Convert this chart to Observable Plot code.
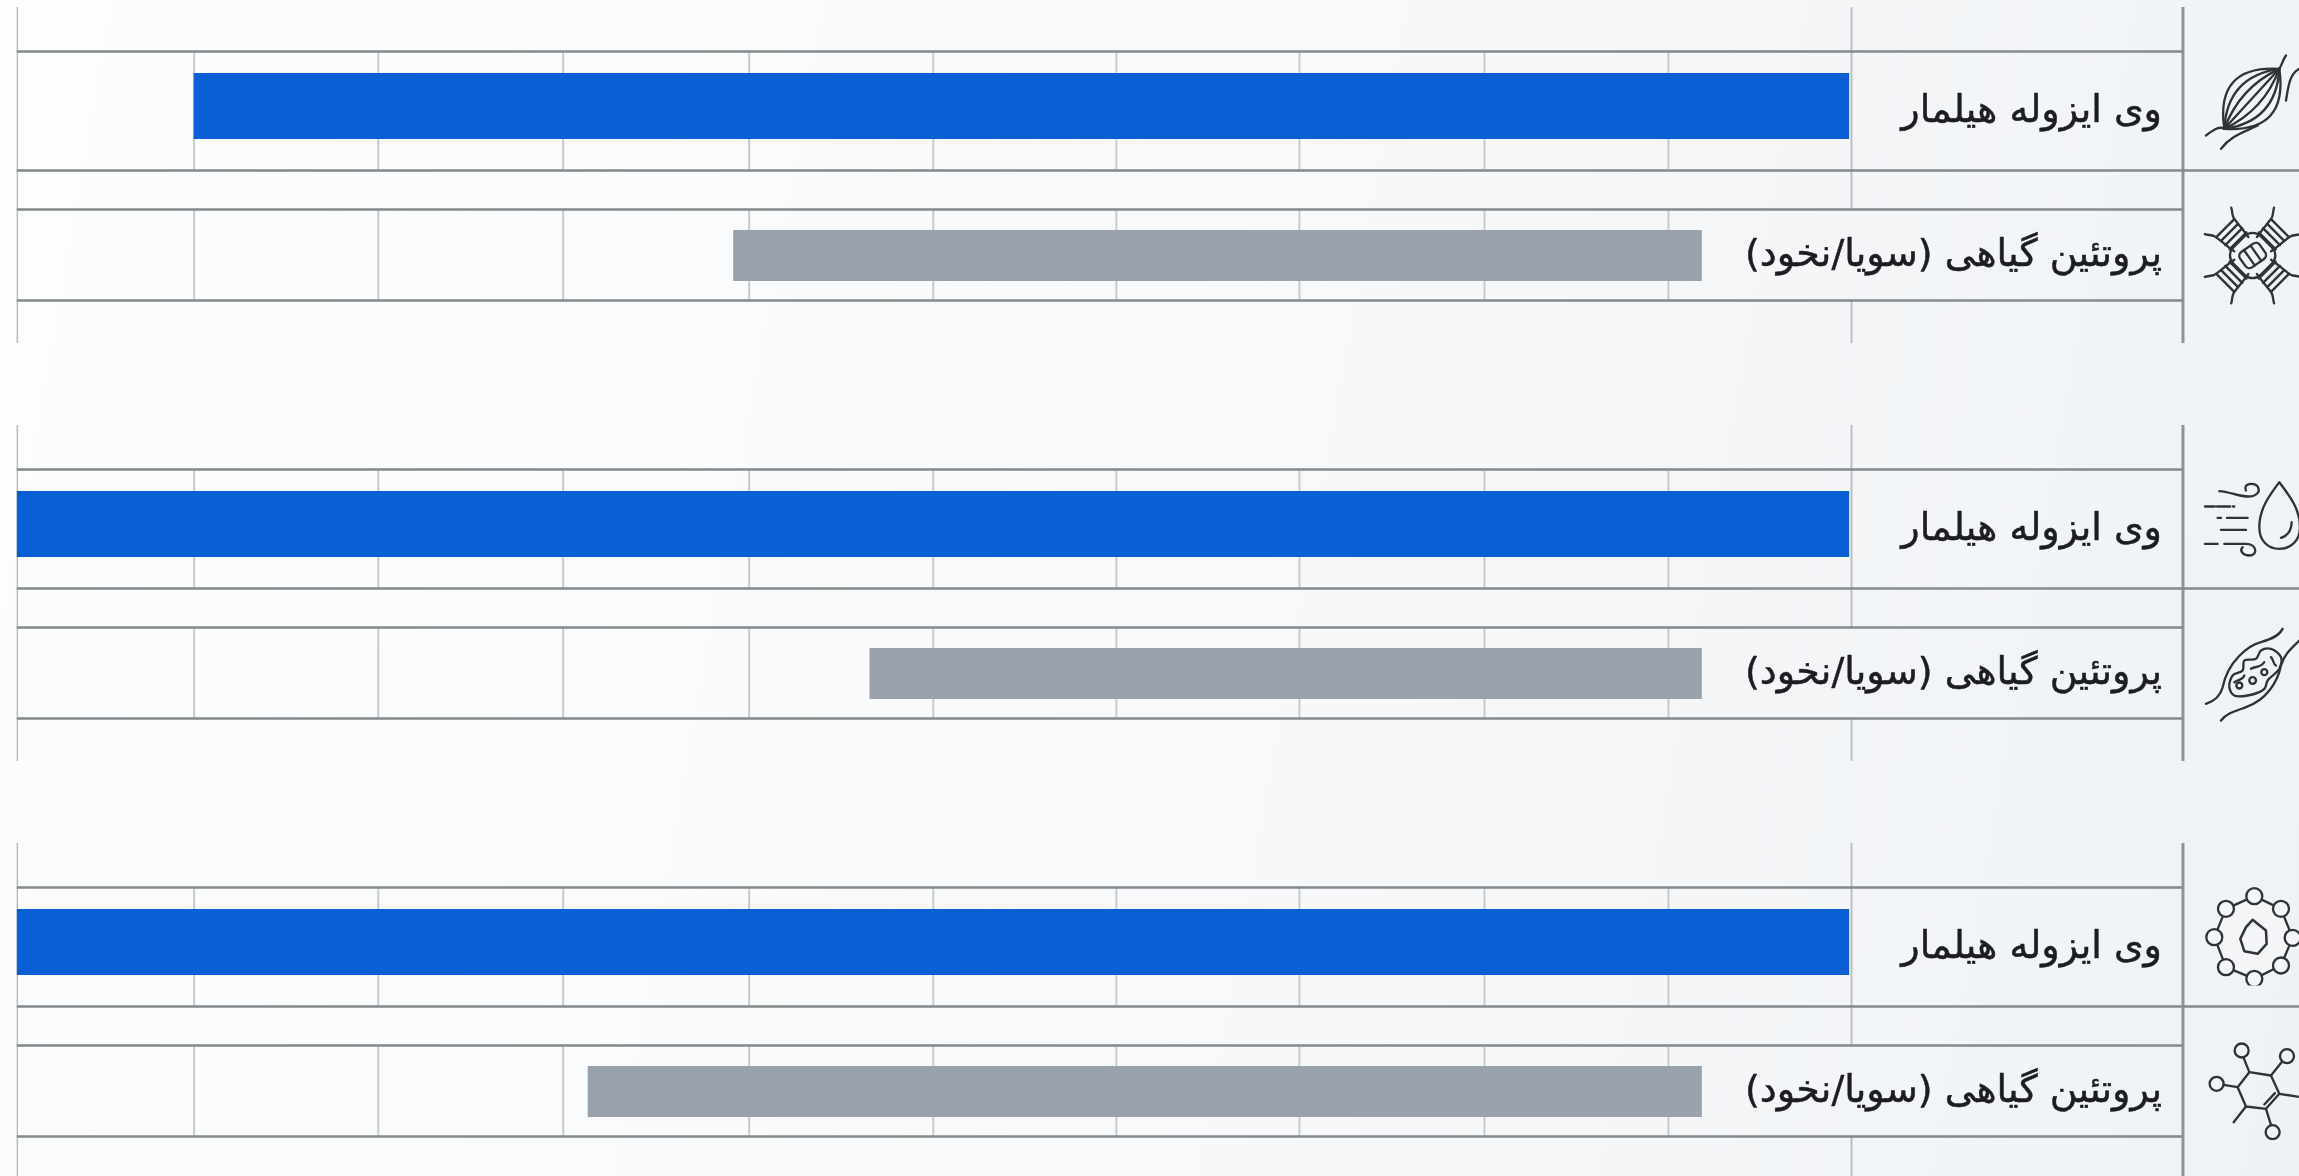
<!DOCTYPE html>
<html lang="fa">
<head>
<meta charset="utf-8">
<style>
html,body{margin:0;padding:0;width:2299px;height:1176px;overflow:hidden;
background:linear-gradient(100deg,#fcfdfd 0%,#f8f9fa 50%,#eff2f5 100%);}
svg{display:block;}
</style>
<script src="https://cdn.jsdelivr.net/npm/d3@7"></script>
<script src="https://cdn.jsdelivr.net/npm/@observablehq/plot@0.6"></script>
</head>
<body>
<div id="chart"></div>
<script>
// ---- data ----
const panels = [0, 1, 2];
const wheyLabel = "وی ایزوله هیلمار";
const plantLabel = "پروتئین گیاهی (سویا/نخود)";
const wheyValues = [9, 9.96, 9.96];
const wheyEnd = [0.01, 0.01, 0.01];
const plantStart = [6.07, 5.33, 6.86];
const plantEnd = [0.81, 0.81, 0.81];
const gridTicks = [0.994, 1.993, 2.998, 3.992, 4.986, 5.986, 6.996, 8.0, 9.0];

// ---- layout ----
const W = 2299, H = 1176;
const period = 418, firstRule = 51;
const y0 = (p) => firstRule + p * period;
const at = (p, off) => y0(p) + off;
const off = {top: -44, bottom: 292, r1: 0, r2: 119, r3: 158, r4: 249,
  wheyA: 22, wheyB: 88, plantA: 179, plantB: 230, wheyText: 58, plantText: 202};
const axisRight = -1.80;   // value position of the right frame rule
const axisLeft = 9.96;
const cols = {blue: "#0a5fd4", gray: "#99a1aa", heavy: "#85888c", light: "#c8cbce", frame: "#8f9397", ink: "#1c1d20"};

// ---- line icons ----
const lens = (x1, y1, x2, y2, ds) => ds.map((d) => {
  const mx = (x1 + x2) / 2, my = (y1 + y2) / 2, dx = x2 - x1, dy = y2 - y1, l = Math.hypot(dx, dy);
  return `<path d="M${x1} ${y1}Q${mx + d * dy / l} ${my - d * dx / l} ${x2} ${y2}"/>`;
}).join("");
const wrap = (body) => "data:image/svg+xml," + encodeURIComponent(
  `<svg xmlns="http://www.w3.org/2000/svg" viewBox="0 0 300 300" width="100" height="100"><g fill="none" stroke="#2f3236" stroke-width="7" stroke-linecap="round" stroke-linejoin="round">${body}</g></svg>`);
const arm = [-62, -80, -98, -116].map((y) => `<path d="M-36 ${y}H36"/>`).join("") +
  `<path d="M-30 -48C-36 -80 -36 -110 -40 -122C-44 -132 -52 -138 -56 -147"/><path d="M30 -48C36 -80 36 -110 40 -122C44 -132 52 -138 56 -147"/>`;
const iconMuscle = wrap(lens(70, 235, 235, 55, [-150, -100, -50, 0, 50, 100, 150]) +
  `<path d="M70 235C55 225 35 240 15 255"/><path d="M170 225C130 245 90 255 60 295"/><path d="M235 55C245 40 245 28 255 15"/><path d="M295 55C265 70 262 110 255 150"/>`);
const iconHelix = wrap([45, 135, 225, 315].map((a) => `<g transform="translate(155 150) rotate(${a})">${arm}</g>`).join("") +
  `<g transform="translate(155 150)"><rect x="-58" y="-58" width="116" height="116" rx="34" transform="rotate(45)"/><g transform="rotate(-35)"><rect x="-36" y="-28" width="72" height="56" rx="14"/><path d="M-12 -28V28M12 -28V28"/></g></g>`);
const iconDrop = wrap(
  `<path d="M235 20C205 60 175 100 175 155C175 195 200 220 235 220C270 220 297 195 297 155C297 100 265 60 235 20Z"/><path d="M272 140C272 165 260 180 240 187"/>` +
  `<path d="M55 47C90 48 130 72 160 60C182 50 175 25 150 25C135 25 130 35 135 45"/><path d="M12 93H100" stroke-dasharray="30 6 40 8"/><path d="M50 127H60M78 127H140"/><path d="M60 163H135"/><path d="M12 205H50"/>` +
  `<path d="M70 205H135C168 205 172 240 145 240C125 240 115 225 125 215"/>`);
const blob = d3.line().curve(d3.curveCatmullRomClosed)([[85,185],[95,150],[125,135],[130,105],[165,100],[180,75],[210,70],[240,95],[235,130],[200,165],[190,190],[140,210],[100,210]]);
const iconMuscle2 = wrap(
  `<path d="M15 235C45 225 60 205 65 185C80 110 140 60 180 50C215 40 235 30 245 10"/><path d="M60 285C80 260 110 255 135 245C195 225 230 170 240 120C250 85 275 65 295 45"/>` +
  `<path d="${blob}"/><circle cx="155" cy="165" r="10"/><circle cx="115" cy="180" r="9"/><circle cx="190" cy="140" r="9"/><path d="M150 130C165 120 175 130 190 110M210 95C220 105 215 115 225 120M100 170C115 160 125 165 130 150"/>`);
const ringPts = [[160, 32], [240, 70], [275, 157], [240, 240], [160, 280], [75, 245], [40, 155], [75, 70]];
const iconRing = wrap(`<path fill="#f3f5f7" d="M${ringPts.map((p) => p.join(" ")).join("L")}Z"/>` +
  ringPts.map(([x, y]) => `<circle cx="${x}" cy="${y}" r="24" fill="#f3f5f7"/>`).join("") +
  `<path stroke-width="7.5" d="M155 103L195 135L197 175L170 205L130 197L118 160L135 125Z"/>`);
const iconMolecule = wrap(
  `<path d="M145 95L210 105L235 160L195 205L135 198L110 140Z"/><path d="M190 192L222 158"/><path d="M145 95L128 52M210 105L243 64M110 140L68 133M195 205L210 253M135 198L98 245M235 160L300 170"/>` +
  [[122, 30], [258, 47], [47, 130], [215, 275]].map(([x, y]) => `<circle cx="${x}" cy="${y}" r="21"/>`).join(""));

const icons = [
  {src: iconMuscle, cy: 100}, {src: iconHelix, cy: 255},
  {src: iconDrop, cy: 525}, {src: iconMuscle2, cy: 675},
  {src: iconRing, cy: 935}, {src: iconMolecule, cy: 1090}
];

// ---- derived tables ----
const wheyBars = panels.map((p, i) => ({x1: wheyValues[i], x2: wheyEnd[i], y1: at(p, off.wheyA), y2: at(p, off.wheyB)}));
const plantBars = panels.map((p, i) => ({x1: plantStart[i], x2: plantEnd[i], y1: at(p, off.plantA), y2: at(p, off.plantB)}));
const gridCells = panels.flatMap((p) => gridTicks.flatMap((t) => [
  {x: t, y1: at(p, off.r1), y2: at(p, off.r2)},
  {x: t, y1: at(p, off.r3), y2: at(p, off.r4)}
]));
const zeroLine = panels.flatMap((p) => [
  {y1: at(p, off.top), y2: at(p, off.r3)},
  {y1: at(p, off.r4), y2: at(p, off.bottom)}
]);
const hLines = panels.flatMap((p) => [off.r1, off.r3, off.r4].map((o) => ({y: at(p, o), x1: axisLeft, x2: axisRight})));
const hLong = panels.map((p) => ({y: at(p, off.r2)}));
const vFrames = panels.map((p) => ({y1: at(p, off.top), y2: at(p, off.bottom)}));
const labels = panels.flatMap((p) => [
  {t: wheyLabel, y: at(p, off.wheyText)},
  {t: plantLabel, y: at(p, off.plantText)}
]);

const chart = Plot.plot({
  width: W, height: H,
  margin: 0,
  style: {background: "transparent", direction: "rtl", overflow: "hidden", filter: "blur(0.6px)"},
  x: {domain: [0, 9.97], range: [1851, 15], axis: null},
  y: {domain: [0, H], range: [0, H], axis: null},
  marks: [
    Plot.ruleX(gridCells, {x: "x", y1: "y1", y2: "y2", stroke: cols.light, strokeWidth: 2}),
    Plot.ruleX(vFrames, {x: () => axisLeft, y1: "y1", y2: "y2", stroke: "#b9bcbf", strokeWidth: 1.5}),
    Plot.ruleX(zeroLine, {x: () => 0, y1: "y1", y2: "y2", stroke: "#bcbfc2", strokeWidth: 2}),
    Plot.ruleX(vFrames, {x: () => axisRight, y1: "y1", y2: "y2", stroke: cols.frame, strokeWidth: 3}),
    Plot.ruleY(hLines, {y: "y", x1: "x1", x2: "x2", stroke: cols.heavy, strokeWidth: 2.4}),
    Plot.ruleY(hLong, {y: "y", x1: () => axisLeft, x2: () => -2.44, stroke: cols.heavy, strokeWidth: 2.6}),
    Plot.rect(wheyBars, {x1: "x1", x2: "x2", y1: "y1", y2: "y2", fill: cols.blue}),
    Plot.rect(plantBars, {x1: "x1", x2: "x2", y1: "y1", y2: "y2", fill: cols.gray}),
    Plot.text(labels, {x: () => axisRight, y: "y", text: "t", dx: -21, textAnchor: "start", lineAnchor: "middle",
      fontFamily: "'DejaVu Sans', sans-serif", fontSize: 38, fill: cols.ink, stroke: cols.ink, strokeWidth: 0.5}),
    Plot.image(icons, {x: () => axisRight, dx: 68, y: "cy", src: "src", width: 100, height: 100})
  ]
});
document.getElementById("chart").append(chart);
</script>
</body>
</html>
